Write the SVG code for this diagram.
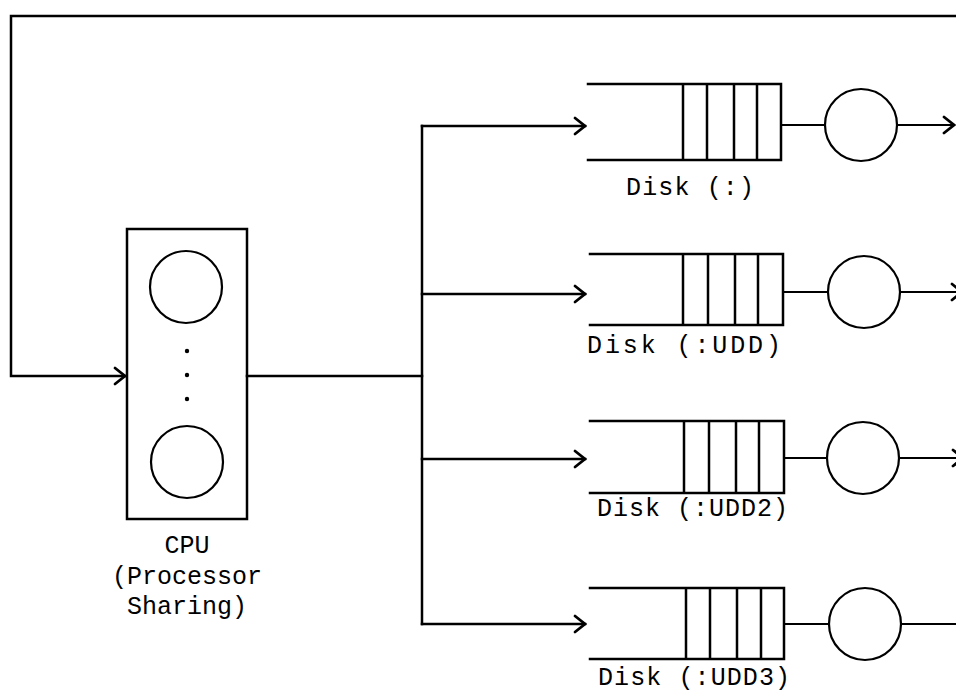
<svg xmlns="http://www.w3.org/2000/svg" width="956" height="695" viewBox="0 0 956 695">
<style>
.ln{fill:none;stroke:#000;stroke-width:2.5;stroke-linecap:square}
.th{fill:none;stroke:#000;stroke-width:2.2}
.tx{font-family:"Liberation Mono","DejaVu Sans Mono",monospace;font-size:25px;fill:#000}
</style>
<defs>
<marker id="ah" markerWidth="16" markerHeight="20" refX="12" refY="9" orient="auto" markerUnits="userSpaceOnUse" overflow="visible">
<path d="M2,1 L12,9 L2,17" fill="none" stroke="#000" stroke-width="2.8" stroke-linecap="round" stroke-linejoin="miter"/>
</marker>
</defs>
<rect width="956" height="695" fill="#fff"/>
<g id="connectors">
<polyline class="ln" points="970,16 11,16 11,376 125,376" marker-end="url(#ah)"/>
<line class="ln" x1="247" y1="376" x2="422" y2="376"/>
<line class="ln" x1="422" y1="126" x2="422" y2="624"/>
<line class="ln" x1="422" y1="126" x2="585" y2="126" marker-end="url(#ah)"/>
<line class="ln" x1="422" y1="294" x2="585" y2="294" marker-end="url(#ah)"/>
<line class="ln" x1="422" y1="459" x2="585" y2="459" marker-end="url(#ah)"/>
<line class="ln" x1="422" y1="624" x2="585" y2="624" marker-end="url(#ah)"/>
<line class="th" x1="781" y1="125" x2="825" y2="125"/>
<line class="th" x1="897" y1="125" x2="954" y2="125" marker-end="url(#ah)"/>
<line class="th" x1="783" y1="292" x2="828" y2="292"/>
<line class="th" x1="900" y1="292" x2="962" y2="292" marker-end="url(#ah)"/>
<line class="th" x1="784" y1="458" x2="827" y2="458"/>
<line class="th" x1="899" y1="458" x2="963" y2="458" marker-end="url(#ah)"/>
<line class="th" x1="784" y1="624" x2="829" y2="624"/>
<line class="th" x1="901" y1="624" x2="956" y2="624"/>
</g>
<g id="cpu">
<rect class="ln" x="127" y="229" width="120" height="290"/>
<circle class="th" cx="186" cy="287" r="36"/>
<circle class="th" cx="187" cy="462" r="36"/>
<circle cx="187" cy="351" r="2.2"/>
<circle cx="187" cy="375" r="2.2"/>
<circle cx="187" cy="399" r="2.2"/>
<text class="tx" x="187" y="553" text-anchor="middle">CPU</text>
<text class="tx" x="187" y="584" text-anchor="middle">(Processor</text>
<text class="tx" x="187" y="614" text-anchor="middle">Sharing)</text>
</g>
<g id="disk0">
<path class="ln" d="M588,84 H781 V160 H588 M683,84 V160 M707,84 V160 M734,84 V160 M757,84 V160"/>
<circle class="th" cx="861" cy="125" r="36"/>
<text class="tx" x="626" y="195" textLength="128" lengthAdjust="spacing">Disk (:)</text>
</g>
<g id="disk1">
<path class="ln" d="M590,254 H783 V325 H590 M683,254 V325 M708,254 V325 M735,254 V325 M758,254 V325"/>
<circle class="th" cx="864" cy="292" r="36"/>
<text class="tx" x="587" y="353" textLength="194" lengthAdjust="spacing">Disk (:UDD)</text>
</g>
<g id="disk2">
<path class="ln" d="M590,421 H784 V493 H590 M684,421 V493 M709,421 V493 M736,421 V493 M759,421 V493"/>
<circle class="th" cx="863" cy="458" r="36"/>
<text class="tx" x="597" y="516" textLength="191" lengthAdjust="spacing">Disk (:UDD2)</text>
</g>
<g id="disk3">
<path class="ln" d="M590,588 H784 V659 H590 M686,588 V659 M710,588 V659 M737,588 V659 M761,588 V659"/>
<circle class="th" cx="865" cy="624" r="36"/>
<text class="tx" x="598" y="685" textLength="192" lengthAdjust="spacing">Disk (:UDD3)</text>
</g>
</svg>
